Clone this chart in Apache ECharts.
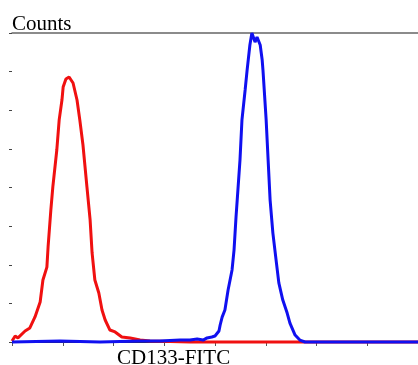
<!DOCTYPE html>
<html>
<head>
<meta charset="utf-8">
<script src="https://cdn.jsdelivr.net/npm/echarts@6/dist/echarts.min.js"></script>
<style>
  html, body { margin: 0; padding: 0; background: #fff; }
  #chart { width: 418px; height: 365px; }
</style>
</head>
<body>
<div id="chart"></div>
<script>
// unstained / control histogram (red)
const redChannel = [0, 8, 15, 20, 33, 45, 58, 71, 78, 88, 91, 98, 103, 113, 119, 126, 129, 136, 144, 149, 154, 164, 171, 179, 189, 197, 202, 209, 219, 227, 235, 247, 260, 277, 298, 323, 348, 450, 600, 750, 900, 1024];
const redCounts = [0.5, 3.1, 2.1, 2.6, 5.7, 7.3, 13.0, 20.7, 32.1, 38.8, 49.2, 68.4, 80.3, 99.4, 115.0, 125.3, 132.0, 136.2, 137.2, 136.2, 134.1, 125.3, 115.0, 102.0, 80.3, 63.2, 46.1, 32.1, 25.4, 16.6, 11.4, 6.2, 5.2, 2.6, 2.1, 1.0, 0.5, 0, 0, 0, 0, 0];

// CD133-FITC stained histogram (blue)
const blueChannel = [0, 121, 222, 323, 373, 424, 449, 467, 482, 492, 504, 512, 517, 522, 525, 530, 537, 545, 555, 560, 565, 568, 575, 580, 588, 593, 600, 605, 608, 613, 618, 623, 626, 631, 633, 641, 646, 651, 658, 666, 673, 683, 694, 701, 714, 726, 739, 850, 1024];
const blueCounts = [0, 0.5, 0, 0.5, 0.5, 1.0, 1.0, 1.6, 1.0, 2.1, 2.6, 3.1, 3.6, 5.7, 8.8, 12.9, 16.6, 26.9, 37.3, 47.6, 64.7, 73.5, 94.2, 115.0, 130.5, 140.8, 153.8, 160.0, 159.0, 155.3, 157.9, 157.4, 153.8, 146.0, 140.8, 115.0, 94.2, 73.5, 56.4, 42.5, 30.6, 21.7, 15.0, 9.8, 3.6, 1.0, 0, 0, 0];

const xMax = 1024;
const xStep = 128;
const yMax = 160;
const yStep = 20;

function pairs(xs, ys) {
  return xs.map((x, i) => [x, ys[i]]);
}

const labelFont = { fontFamily: "Liberation Serif", fontSize: 21, fontWeight: "normal", color: "#000" };

const chart = echarts.init(document.getElementById("chart"));
chart.setOption({
  animation: false,
  title: [
    { text: "Counts", left: 12, top: 14, padding: 0, textStyle: labelFont },
    { text: "CD133-FITC", left: 117, top: 348, padding: 0, textStyle: labelFont },
  ],
  grid: { left: 12, right: 0, top: 33, bottom: 23 },
  xAxis: [
    {
      type: "value",
      min: 0,
      max: xMax,
      interval: xStep,
      axisLine: { show: true, lineStyle: { color: "#333", width: 1 } },
      axisTick: { show: true, length: 4, lineStyle: { color: "#555" } },
      axisLabel: { show: false },
      splitLine: { show: false },
    },
    {
      type: "value",
      position: "top",
      min: 0,
      max: xMax,
      axisLine: { show: true, onZero: false, lineStyle: { color: "#666", width: 1.5 } },
      axisTick: { show: false },
      axisLabel: { show: false },
      splitLine: { show: false },
    },
  ],
  yAxis: {
    type: "value",
    min: 0,
    max: yMax,
    interval: yStep,
    axisLine: { show: false },
    axisTick: { show: true, length: 3, lineStyle: { color: "#444" } },
    axisLabel: { show: false },
    splitLine: { show: false },
  },
  series: [
    {
      type: "line",
      data: pairs(redChannel, redCounts),
      showSymbol: false,
      clip: false,
      lineStyle: { color: "#f01010", width: 3 },
      z: 2,
    },
    {
      type: "line",
      data: pairs(blueChannel, blueCounts),
      showSymbol: false,
      clip: false,
      lineStyle: { color: "#1010f0", width: 3 },
      z: 3,
    },
  ],
});
</script>
</body>
</html>
